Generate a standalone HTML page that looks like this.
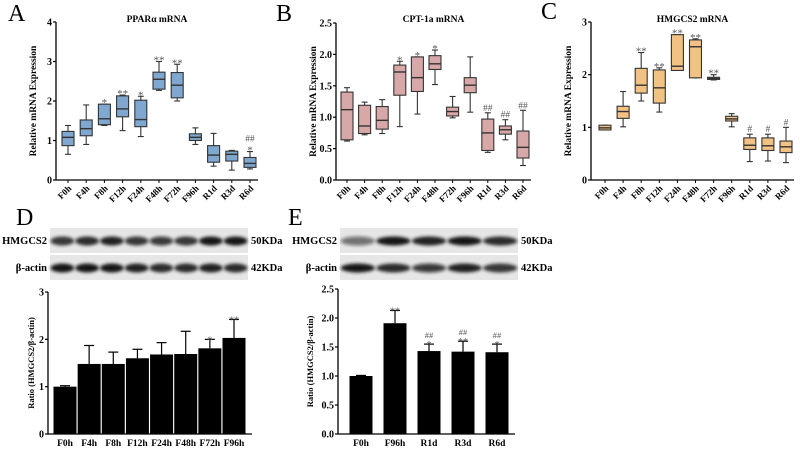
<!DOCTYPE html>
<html><head><meta charset="utf-8"><style>
body{margin:0;background:#fff}
svg{display:block}
svg text{font-family:"Liberation Serif",serif}
</style></head><body>
<svg id="fig" width="800" height="449" viewBox="0 0 800 449" xmlns="http://www.w3.org/2000/svg">
<defs><filter id="blur" x="-20%" y="-50%" width="140%" height="200%"><feGaussianBlur stdDeviation="1.6"/></filter></defs>
</svg>
<script>
const cats=["F0h","F4h","F8h","F12h","F24h","F48h","F72h","F96h","R1d","R3d","R6d"];
// [min,q1,median,q3,max]
const boxA=[[0.65,0.87,1.08,1.23,1.38],[0.9,1.12,1.3,1.52,1.9],[1.38,1.4,1.55,1.92,1.92],[1.25,1.6,1.8,2.13,2.15],[1.1,1.35,1.53,2.02,2.12],[2.27,2.3,2.55,2.73,3.0],[2.0,2.08,2.4,2.72,2.93],[0.9,1.0,1.08,1.17,1.32],[0.35,0.45,0.63,0.87,1.18],[0.25,0.48,0.65,0.73,0.75],[0.28,0.32,0.42,0.57,0.72]];
const annA=["","","*","**","*","**","**","","","","##\n*"];
const boxB=[[0.62,0.64,1.12,1.4,1.47],[0.72,0.74,0.86,1.19,1.24],[0.74,0.81,0.95,1.17,1.28],[0.85,1.35,1.72,1.83,1.89],[1.05,1.41,1.63,1.96,1.96],[1.52,1.76,1.85,1.98,2.07],[0.99,1.02,1.09,1.16,1.33],[1.08,1.39,1.51,1.63,1.96],[0.44,0.47,0.75,0.97,1.07],[0.64,0.73,0.8,0.86,0.96],[0.23,0.35,0.52,0.78,1.11]];
const annB=["","","","*","*","*","","","##","##","##"];
const boxC=[[0.95,0.95,0.99,1.04,1.04],[1.01,1.17,1.3,1.4,1.68],[1.5,1.65,1.8,2.12,2.42],[1.29,1.46,1.75,2.09,2.13],[2.08,2.08,2.16,2.76,2.76],[1.94,1.94,2.53,2.66,2.68],[1.9,1.91,1.93,1.95,2.0],[1.01,1.12,1.16,1.21,1.26],[0.35,0.58,0.66,0.8,0.87],[0.36,0.56,0.65,0.8,0.87],[0.33,0.52,0.63,0.74,1.0]];
const annC=["","","**","**","**","**","**","","#","#","#"];
const catsD=["F0h","F4h","F8h","F12h","F24h","F48h","F72h","F96h"];
const valD=[1.0,1.48,1.48,1.6,1.68,1.69,1.81,2.03];
const errD=[0.02,0.39,0.25,0.19,0.25,0.48,0.19,0.39];
const annD=["","","","","","","*","**"];
const catsE=["F0h","F96h","R1d","R3d","R6d"];
const valE=[1.0,1.91,1.43,1.42,1.41];
const errE=[0.01,0.22,0.12,0.18,0.14];
const annE=["","**","##\n*","##\n**","##\n*"];
const ticksA=["0","1","2","3","4"],ticksB=["0.0","0.5","1.0","1.5","2.0","2.5"],ticksC=["0","1","2","3"],ticksD=["0","1","2","3"];
const bandsD=[0.85,0.9,0.95,0.85,0.8,0.85,1.0,1.0],actinD=[1,1,1,0.95,0.9,0.9,0.95,0.9];
const bandsE=[0.55,1,0.95,1,0.9],actinE=[1,0.9,0.8,0.95,0.85];

const S=document.getElementById('fig');
function el(t,a,p){const e=document.createElementNS('http://www.w3.org/2000/svg',t);for(const k in a)e.setAttribute(k,a[k]);(p||S).appendChild(e);return e;}
function txt(x,y,s,sz,extra,p){const e=el('text',Object.assign({x:x,y:y,'font-size':sz,fill:'#000','font-weight':'bold'},extra||{}),p);e.textContent=s;return e;}

function axisY(g,x0,yb,yt,ticks){
  el('line',{x1:x0,y1:yb,x2:x0,y2:yt,stroke:'#000','stroke-width':1.3},g);
  ticks.forEach((t,i)=>{const y=yb-(yb-yt)*i/(ticks.length-1);
    el('line',{x1:x0-3,y1:y,x2:x0,y2:y,stroke:'#000','stroke-width':1.2},g);
    const lt=txt(x0-4,y+3.5,t,10,{'text-anchor':'end'},g);
    
    
  });
}
function boxPanel(o){
  const g=el('g',{});
  
  
  const max=parseFloat(o.ticks[o.ticks.length-1]);
  const Y=v=>o.yb-(o.yb-o.yt)*v/max;
  const X=i=>o.x1+(o.x2-o.x1)*i/(cats.length-1);
  axisY(g,o.ax,o.yb,o.yt,o.ticks);
  el('line',{x1:o.ax,y1:o.yb,x2:o.x2+8,y2:o.yb,stroke:'#000','stroke-width':1.3},g);
  const L=txt(o.letX,o.letY,o.letter,24,{'font-weight':'normal'},g);
  
  
  const T=txt((o.ax+o.x2)/2+4,22,o.title,9.5,{'text-anchor':'middle'},g);
  
  
  const yl=txt(0,0,'Relative mRNA Expression',9.5,{'text-anchor':'middle',transform:`translate(${o.ax-20},${(o.yb+o.yt)/2}) rotate(-90)`},g);
  
  
  o.data.forEach((d,i)=>{
    const x=X(i),w=6;
    el('line',{x1:x,y1:o.yb,x2:x,y2:o.yb+3,stroke:'#000'},g);
    const tl=txt(x+4,o.yb+9,cats[i],9,{'text-anchor':'end',transform:`rotate(-45 ${x+4} ${o.yb+9})`},g);
    
    
    const bg=el('g',{stroke:'#333','stroke-width':1.1},g);
    
    
    el('line',{x1:x,y1:Y(d[0]),x2:x,y2:Y(d[4])},bg);
    el('line',{x1:x-3,y1:Y(d[0]),x2:x+3,y2:Y(d[0])},bg);
    el('line',{x1:x-3,y1:Y(d[4]),x2:x+3,y2:Y(d[4])},bg);
    el('rect',{x:x-w,y:Y(d[3]),width:2*w,height:Math.max(1,Y(d[1])-Y(d[3])),fill:o.color},bg);
    el('line',{x1:x-w,y1:Y(d[2]),x2:x+w,y2:Y(d[2]),'stroke-width':1.4},bg);
    const a=o.ann[i];
    if(a){const parts=a.split('\n');let yy=Y(d[4])-2;
      for(let k=parts.length-1;k>=0;k--){const at=txt(x,yy+(parts[k].includes('*')?4:0),parts[k],parts[k].includes('*')?11:9.5,{'text-anchor':'middle',fill:'#555','font-weight':'normal'},g);
        
        
        yy-=8;}
    }
  });
}
boxPanel({name:'panel-a-ppara',letter:'A',letX:8,letY:21,title:'PPARα mRNA',ax:56,yb:180,yt:22,x1:68,x2:250,ticks:ticksA,data:boxA,ann:annA,color:'#7fa7cf'});
boxPanel({name:'panel-b-cpt1a',letter:'B',letX:276,letY:21,title:'CPT-1a mRNA',ax:336,yb:180,yt:23,x1:347,x2:523,ticks:ticksB,data:boxB,ann:annB,color:'#d8a8a8'});
boxPanel({name:'panel-c-hmgcs2',letter:'C',letX:541,letY:19,title:'HMGCS2 mRNA',ax:591,yb:180,yt:22,x1:605,x2:786,ticks:ticksC,data:boxC,ann:annC,color:'#f2c184'});

function blot(o){
  const g=el('g',{});
  
  
  const n=o.b1.length,bw=(o.x2-o.x1)/n;
  [[o.y1,o.b1,'HMGCS2',o.k1],[o.y1+27,o.b2,'β-actin',o.k2]].forEach(([y,b,lab,kd])=>{
    el('rect',{x:o.x1,y:y,width:o.x2-o.x1,height:25,fill:'#e6e6e6'},g);
    b.forEach((v,i)=>{el('ellipse',{cx:o.x1+bw*(i+0.5),cy:y+13,rx:bw*0.48,ry:4.5,fill:`rgba(20,20,20,${v})`,filter:'url(#blur)'},g);});
    const l=txt(o.x1-3,y+16,lab,10.5,{'text-anchor':'end'},g);
    
    
    const k=txt(o.x2+3,y+16,kd,10.5,{},g);
    
    
  });
}
blot({name:'blot-d',x1:50,x2:248,y1:228,b1:bandsD,b2:actinD,k1:'50KDa',k2:'42KDa'});
blot({name:'blot-e',x1:340,x2:518,y1:228,b1:bandsE,b2:actinE,k1:'50KDa',k2:'42KDa'});
[['D',16,225],['E',288,225]].forEach(([t,x,y])=>{const L=txt(x,y,t,24,{'font-weight':'normal'});});

function barPanel(o){
  const g=el('g',{});
  
  
  const max=parseFloat(o.ticks[o.ticks.length-1]);
  const Y=v=>o.yb-(o.yb-o.yt)*v/max;
  const X=i=>o.x1+(o.x2-o.x1)*i/(o.cats.length-1);
  axisY(g,o.ax,o.yb,o.yt,o.ticks);
  el('line',{x1:o.ax,y1:o.yb,x2:o.x2+18,y2:o.yb,stroke:'#000','stroke-width':1.3},g);
  const yl=txt(0,0,'Ratio (HMGCS2/β-actin)',8.5,{'text-anchor':'middle',transform:`translate(${o.ax-o.tOff},${(o.yb+o.yt)/2}) rotate(-90)`},g);
  
  
  o.vals.forEach((v,i)=>{
    const x=X(i);
    const bar=el('rect',{x:x-11.5,y:Y(v),width:23,height:o.yb-Y(v),fill:'#000'},g);
    
    
    const ye=Y(v+o.err[i]);
    el('line',{x1:x,y1:Y(v),x2:x,y2:ye,stroke:'#000','stroke-width':1.2},g);
    el('line',{x1:x-5,y1:ye,x2:x+5,y2:ye,stroke:'#000','stroke-width':1.2},g);
    const tl=txt(x,o.yb+12,o.cats[i],9.5,{'text-anchor':'middle'},g);
    
    
    const a=o.ann[i];
    if(a){const parts=a.split('\n');let yy=ye+1;
      for(let k=parts.length-1;k>=0;k--){const at=txt(x,yy+(parts[k].includes('*')?3:0),parts[k],parts[k].includes('*')?10:8.5,{'text-anchor':'middle',fill:'#555','font-weight':'normal'},g);
        
        
        yy-=7;}
    }
  });
}
barPanel({name:'panel-d-bars',ax:48,yb:434,yt:292,x1:65,x2:234,cats:catsD,vals:valD,err:errD,ann:annD,ticks:ticksD,tOff:14});
barPanel({name:'panel-e-bars',ax:338,yb:434,yt:289,x1:361,x2:497,cats:catsE,vals:valE,err:errE,ann:annE,ticks:ticksB,tOff:25});
</script>
</body></html>
